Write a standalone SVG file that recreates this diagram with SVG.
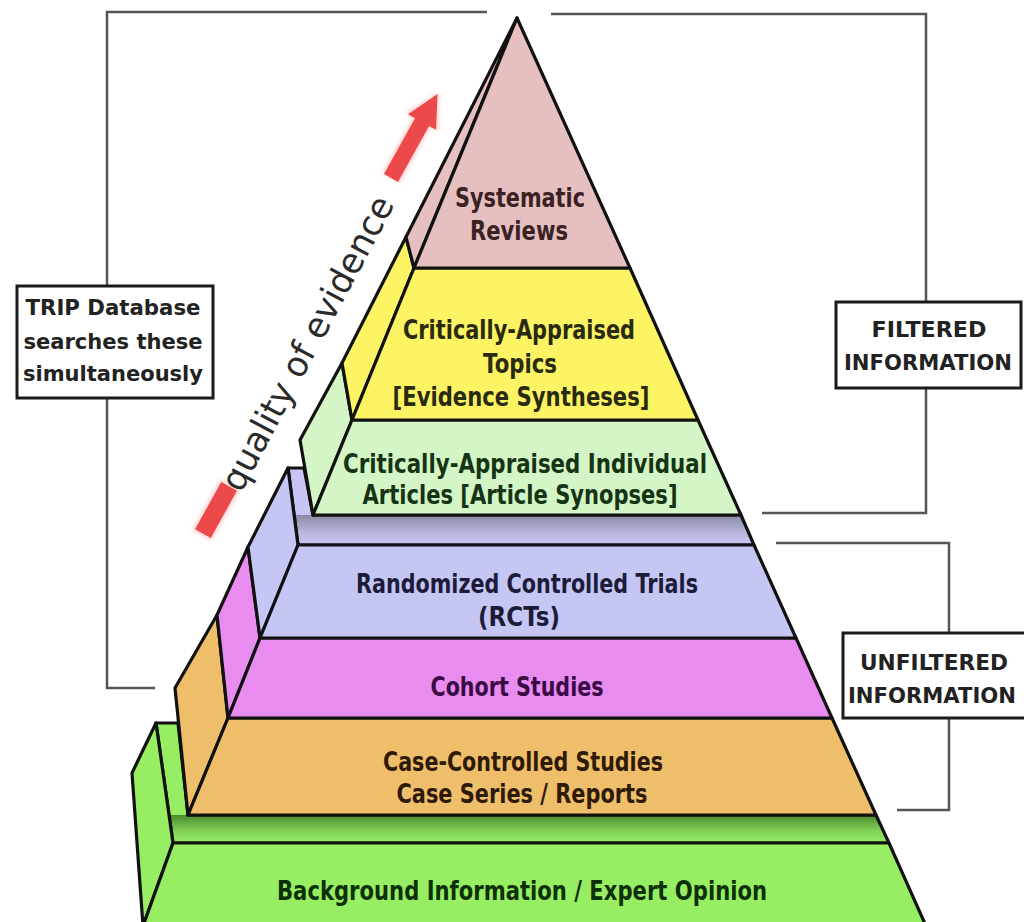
<svg xmlns="http://www.w3.org/2000/svg" width="1024" height="922" viewBox="0 0 1024 922">
<style>
.face{stroke:#111;stroke-width:3.2;stroke-linejoin:round}
.lbl{font-family:"DejaVu Sans","Liberation Sans",sans-serif;font-weight:bold;font-size:26px;text-anchor:middle}
.box{fill:#fff;stroke:#1a1a1a;stroke-width:3}
.boxt{font-family:"DejaVu Sans","Liberation Sans",sans-serif;font-weight:bold;font-size:21px;text-anchor:middle;fill:#222}
.br{fill:none;stroke:#555;stroke-width:2.5}
</style>
<defs>
<linearGradient id="blueTop" gradientUnits="userSpaceOnUse" x1="0" y1="468" x2="0" y2="545">
<stop offset="0" stop-color="#c5c6f4"/><stop offset="0.61" stop-color="#c5c6f4"/><stop offset="0.615" stop-color="#8a8aa6"/><stop offset="0.83" stop-color="#b6b6dc"/><stop offset="1" stop-color="#c8c8f2"/>
</linearGradient>
<linearGradient id="greenTop" gradientUnits="userSpaceOnUse" x1="0" y1="723" x2="0" y2="843">
<stop offset="0" stop-color="#97ee62"/><stop offset="0.765" stop-color="#97ee62"/><stop offset="0.77" stop-color="#4a8a2c"/><stop offset="0.9" stop-color="#82d258"/><stop offset="1" stop-color="#98ee66"/>
</linearGradient>
<filter id="glow" x="-30%" y="-30%" width="160%" height="160%"><feGaussianBlur stdDeviation="2"/></filter>
</defs>
<rect width="1024" height="922" fill="#fff"/>

<g id="connectors">
<polyline class="br" points="487,12 107,12 107,286"/>
<polyline class="br" points="107,398 107,688 155,688"/>
<polyline class="br" points="551,14 926,14 926,302"/>
<polyline class="br" points="926,388 926,513 762,513"/>
<polyline class="br" points="776,543 949,543 949,633"/>
<polyline class="br" points="949,718 949,810 897,810"/>
</g>

<g id="layer-background">
<polygon class="face" fill="url(#greenTop)" points="156,723 178,723 188,815 876,815 889,843 173,843"/>
<polygon class="face" fill="#97ee62" points="156,723 173,843 143,926 132,773"/>
<polygon class="face" fill="#97ee62" points="173,843 889,843 926,926 143,926"/>
<text class="lbl" fill="#0c3008" x="522" y="900" textLength="490" lengthAdjust="spacingAndGlyphs">Background Information / Expert Opinion</text>
</g>

<g id="layer-case">
<polygon class="face" fill="#efbe6a" points="217,615 228,718 188,815 175,688"/>
<polygon class="face" fill="#efbe6a" points="228,718 832,718 876,815 188,815"/>
<text class="lbl" fill="#2e1a06" x="523" y="771" textLength="280" lengthAdjust="spacingAndGlyphs">Case-Controlled Studies</text>
<text class="lbl" fill="#2e1a06" x="522" y="803" textLength="251" lengthAdjust="spacingAndGlyphs">Case Series / Reports</text>
</g>

<g id="layer-cohort">
<polygon class="face" fill="#e98cf0" points="248,547 260,638 228,718 217,615"/>
<polygon class="face" fill="#e98cf0" points="260,638 796,638 832,718 228,718"/>
<text class="lbl" fill="#3a0a44" x="517" y="696" textLength="173" lengthAdjust="spacingAndGlyphs">Cohort Studies</text>
</g>

<g id="layer-rct">
<polygon class="face" fill="url(#blueTop)" points="288,468 304,468 313,515 741,515 754,545 298,545"/>
<polygon class="face" fill="#c5c6f4" points="288,468 298,545 260,638 248,547"/>
<polygon class="face" fill="#c5c6f4" points="298,545 754,545 796,638 260,638"/>
<text class="lbl" fill="#1c1c3a" x="527" y="593" textLength="342" lengthAdjust="spacingAndGlyphs">Randomized Controlled Trials</text>
<text class="lbl" fill="#1c1c3a" x="519" y="626" textLength="82" lengthAdjust="spacingAndGlyphs">(RCTs)</text>
</g>

<g id="layer-cai">
<polygon class="face" fill="#d4f5c6" points="342,363 352,420 313,515 300,440"/>
<polygon class="face" fill="#d4f5c6" points="352,420 698,420 741,515 313,515"/>
<text class="lbl" fill="#143414" x="525" y="473" textLength="364" lengthAdjust="spacingAndGlyphs">Critically-Appraised Individual</text>
<text class="lbl" fill="#143414" x="520" y="504" textLength="315" lengthAdjust="spacingAndGlyphs">Articles [Article Synopses]</text>
</g>

<g id="layer-cat">
<polygon class="face" fill="#fcf462" points="406,237 414,268 352,420 342,363"/>
<polygon class="face" fill="#fcf462" points="414,268 630,268 698,420 352,420"/>
<text class="lbl" fill="#2a2a10" x="519" y="339" textLength="232" lengthAdjust="spacingAndGlyphs">Critically-Appraised</text>
<text class="lbl" fill="#2a2a10" x="520" y="373" textLength="74" lengthAdjust="spacingAndGlyphs">Topics</text>
<text class="lbl" fill="#2a2a10" x="521" y="406" textLength="257" lengthAdjust="spacingAndGlyphs">[Evidence Syntheses]</text>
</g>

<g id="layer-systematic">
<polygon class="face" fill="#e6bfc1" points="517,18 406,237 414,268"/>
<polygon class="face" fill="#e6bfc1" points="517,18 630,268 414,268"/>
<text class="lbl" fill="#3a2222" x="520" y="207" textLength="130" lengthAdjust="spacingAndGlyphs">Systematic</text>
<text class="lbl" fill="#3a2222" x="519" y="240" textLength="98" lengthAdjust="spacingAndGlyphs">Reviews</text>
</g>

<g id="quality-arrow">
<g transform="translate(216,510) rotate(-61)">
<rect x="-29" y="-11" width="58" height="22" fill="#ffd0d0" filter="url(#glow)"/>
<rect x="-27" y="-9" width="54" height="18" fill="#ec4a4a"/>
</g>
<g transform="translate(391,178) rotate(-61)">
<polygon points="0,-10 64,-10 64,-19 98,0 64,19 64,10 0,10" fill="#ffd0d0" filter="url(#glow)"/>
<polygon points="0,-8 64,-8 64,-16 96,0 64,16 64,8 0,8" fill="#ec4a4a"/>
</g>
<text transform="translate(318,349) rotate(-62)" x="0" y="0" font-family="DejaVu Sans, Liberation Sans, sans-serif" font-size="35" fill="#2a2a2a" text-anchor="middle" textLength="328" lengthAdjust="spacingAndGlyphs">quality of evidence</text>
</g>

<g id="box-trip">
<rect class="box" x="17" y="286" width="196" height="112"/>
<text class="boxt" x="113" y="315" textLength="175" lengthAdjust="spacingAndGlyphs">TRIP Database</text>
<text class="boxt" x="113" y="349" textLength="179" lengthAdjust="spacingAndGlyphs">searches these</text>
<text class="boxt" x="113" y="381" textLength="180" lengthAdjust="spacingAndGlyphs">simultaneously</text>
</g>

<g id="box-filtered">
<rect class="box" x="836" y="302" width="185" height="86"/>
<text class="boxt" x="929" y="337" textLength="115" lengthAdjust="spacingAndGlyphs">FILTERED</text>
<text class="boxt" x="928" y="370" textLength="168" lengthAdjust="spacingAndGlyphs">INFORMATION</text>
</g>

<g id="box-unfiltered">
<rect class="box" x="843" y="633" width="190" height="85"/>
<text class="boxt" x="934" y="670" textLength="148" lengthAdjust="spacingAndGlyphs">UNFILTERED</text>
<text class="boxt" x="932" y="703" textLength="168" lengthAdjust="spacingAndGlyphs">INFORMATION</text>
</g>
</svg>
